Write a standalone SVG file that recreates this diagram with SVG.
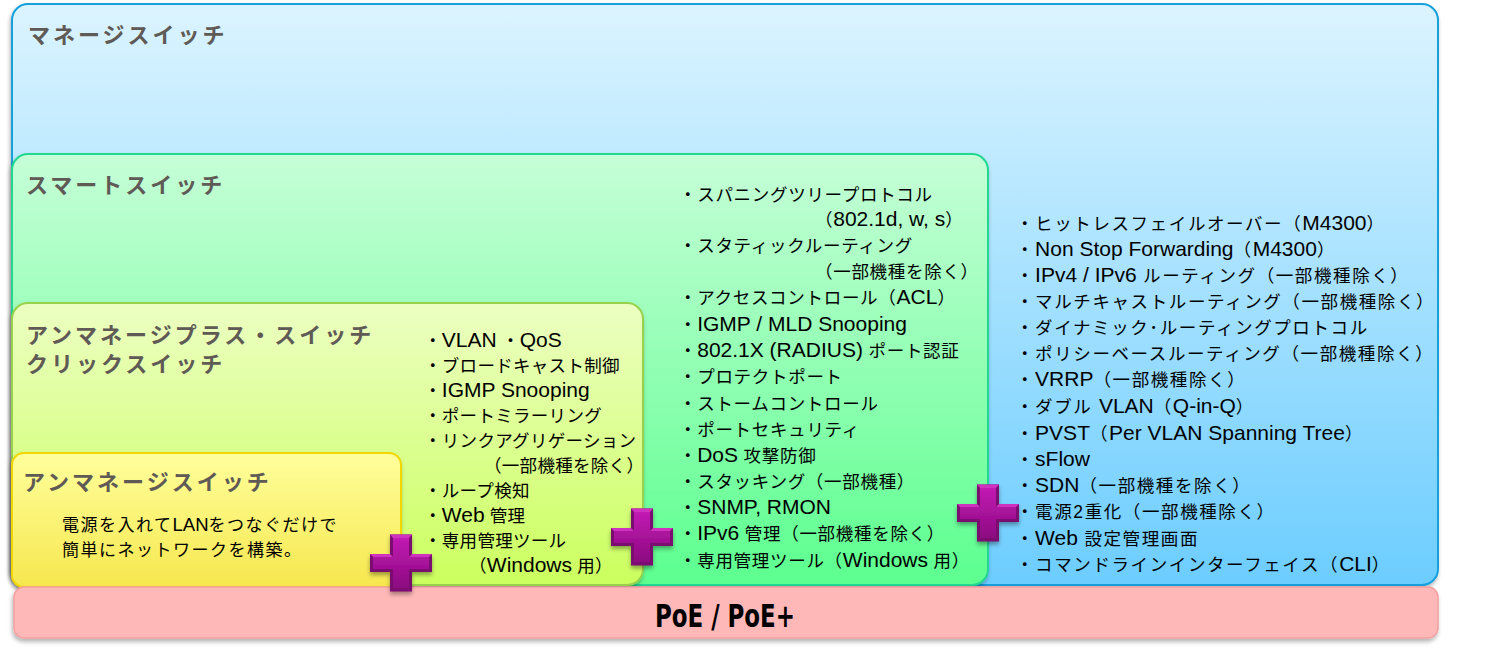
<svg xmlns="http://www.w3.org/2000/svg" width="1486" height="665" viewBox="0 0 1486 665">
<defs>
<linearGradient id="gMan" x1="0" y1="0" x2="0" y2="1"><stop offset="0" stop-color="#dcf4ff"/><stop offset="1" stop-color="#6ccdff"/></linearGradient>
<linearGradient id="gSmart" x1="0" y1="0" x2="0" y2="1"><stop offset="0" stop-color="#c6fed7"/><stop offset="1" stop-color="#5cff8f"/></linearGradient>
<linearGradient id="gPlus" x1="0" y1="0" x2="0" y2="1"><stop offset="0" stop-color="#ecffc2"/><stop offset="1" stop-color="#cbff5e"/></linearGradient>
<linearGradient id="gUn" x1="0" y1="0" x2="0" y2="1"><stop offset="0" stop-color="#ffff9c"/><stop offset="1" stop-color="#f6e74e"/></linearGradient>
<linearGradient id="gCross" x1="0" y1="0" x2="0" y2="1"><stop offset="0" stop-color="#c21ab3"/><stop offset="1" stop-color="#8c0a80"/></linearGradient>
<filter id="sh" x="-5%" y="-10%" width="110%" height="130%"><feDropShadow dx="-1" dy="3" stdDeviation="2" flood-color="#000" flood-opacity="0.3"/></filter>
<filter id="shc" x="-20%" y="-20%" width="140%" height="150%"><feDropShadow dx="0" dy="3" stdDeviation="2" flood-color="#000" flood-opacity="0.35"/></filter>
<g id="cross">
<polygon points="-11,-28.5 11,-28.5 11,-9 31,-9 31,9 11,9 11,28.5 -11,28.5 -11,9 -31,9 -31,-9 -11,-9" fill="#7c0870"/>
<polygon points="-11,-28.5 11,-28.5 8,-25 8,-6 -8,-6 -8,-25" fill="#d030c0"/>
<polygon points="-31,-9 -11,-9 -8,-6 -28,-6" fill="#d030c0"/>
<polygon points="11,-9 31,-9 28,-6 8,-6" fill="#d030c0"/>
<polygon points="-8,-25 8,-25 8,-6 28,-6 28,6 8,6 8,25 -8,25 -8,6 -28,6 -28,-6 -8,-6" fill="url(#gCross)"/>
</g>
</defs>
<style>
.title{font-family:"Liberation Sans","Noto Sans CJK JP",sans-serif;font-size:22px;font-weight:bold;fill:#5f5a55;letter-spacing:3px}
.li{font-family:"Liberation Sans","Noto Sans CJK JP",sans-serif;font-size:17.5px;fill:#000}
.c1{letter-spacing:0.3px}
.c2{letter-spacing:0.7px}
.c3{letter-spacing:1.6px}
.e{font-size:21px;letter-spacing:0}
.body{font-family:"Liberation Sans","Noto Sans CJK JP",sans-serif;font-size:17px;fill:#000;letter-spacing:1.5px}
.be{font-size:18.5px;letter-spacing:0}
.poe{font-family:"DejaVu Sans Condensed","DejaVu Sans",sans-serif;font-size:32px;font-weight:bold;fill:#000}
</style>

<g id="managed">
<rect x="12" y="4" width="1426" height="581" rx="16" fill="url(#gMan)" stroke="#14a0dc" stroke-width="2" filter="url(#sh)"/>
<text class="title" x="28" y="43">マネージスイッチ</text>
<g class="li c3">
<text x="1016" y="230">・ヒットレスフェイルオーバー（<tspan class="e">M4300</tspan>）</text>
<text x="1016" y="256">・<tspan class="e">Non Stop Forwarding</tspan>（<tspan class="e">M4300</tspan>）</text>
<text x="1016" y="282">・<tspan class="e">IPv4 / IPv6</tspan> ルーティング（一部機種除く）</text>
<text x="1016" y="308">・マルチキャストルーティング（一部機種除く）</text>
<text x="1016" y="334">・ダイナミック･ルーティングプロトコル</text>
<text x="1016" y="360">・ポリシーベースルーティング（一部機種除く）</text>
<text x="1016" y="386">・<tspan class="e">VRRP</tspan>（一部機種除く）</text>
<text x="1016" y="413">・ダブル <tspan class="e">VLAN</tspan>（<tspan class="e">Q-in-Q</tspan>）</text>
<text x="1016" y="440">・<tspan class="e">PVST</tspan>（<tspan class="e">Per VLAN Spanning Tree</tspan>）</text>
<text x="1016" y="466">・<tspan class="e">sFlow</tspan></text>
<text x="1016" y="492">・<tspan class="e">SDN</tspan>（一部機種を除く）</text>
<text x="1016" y="518">・電源2重化（一部機種除く）</text>
<text x="1016" y="545">・<tspan class="e">Web</tspan> 設定管理画面</text>
<text x="1016" y="571">・コマンドラインインターフェイス（<tspan class="e">CLI</tspan>）</text>
</g>
</g>

<g id="smart">
<rect x="12" y="154" width="976" height="431" rx="16" fill="url(#gSmart)" stroke="#22d890" stroke-width="2" filter="url(#sh)"/>
<text class="title" x="26" y="193">スマートスイッチ</text>
<g class="li c2">
<text x="679" y="201">・スパニングツリープロトコル</text>
<text x="815" y="226">（<tspan class="e">802.1d, w, s</tspan>）</text>
<text x="679" y="252">・スタティックルーティング</text>
<text x="815" y="278">（一部機種を除く）</text>
<text x="679" y="304">・アクセスコントロール（<tspan class="e">ACL</tspan>）</text>
<text x="679" y="331">・<tspan class="e">IGMP / MLD Snooping</tspan></text>
<text x="679" y="357">・<tspan class="e">802.1X (RADIUS)</tspan> ポート認証</text>
<text x="679" y="383">・プロテクトポート</text>
<text x="679" y="410">・ストームコントロール</text>
<text x="679" y="436">・ポートセキュリティ</text>
<text x="679" y="462">・<tspan class="e">DoS</tspan> 攻撃防御</text>
<text x="679" y="488">・スタッキング（一部機種）</text>
<text x="679" y="514">・<tspan class="e">SNMP, RMON</tspan></text>
<text x="679" y="540">・<tspan class="e">IPv6</tspan> 管理（一部機種を除く）</text>
<text x="679" y="567">・専用管理ツール（<tspan class="e">Windows</tspan> 用）</text>
</g>
</g>

<g id="unmanaged-plus">
<rect x="12" y="303" width="631" height="282" rx="16" fill="url(#gPlus)" stroke="#98d24e" stroke-width="2" filter="url(#sh)"/>
<text class="title" x="26" y="343">アンマネージプラス・スイッチ</text>
<text class="title" x="26" y="372">クリックスイッチ</text>
<g class="li c1">
<text x="424" y="347">・<tspan class="e">VLAN</tspan> ・<tspan class="e">QoS</tspan></text>
<text x="424" y="372">・ブロードキャスト制御</text>
<text x="424" y="397">・<tspan class="e">IGMP Snooping</tspan></text>
<text x="424" y="422">・ポートミラーリング</text>
<text x="424" y="447">・リンクアグリゲーション</text>
<text x="484" y="472">（一部機種を除く）</text>
<text x="424" y="497">・ループ検知</text>
<text x="424" y="522">・<tspan class="e">Web</tspan> 管理</text>
<text x="424" y="547">・専用管理ツール</text>
<text x="469" y="572">（<tspan class="e">Windows</tspan> 用）</text>
</g>
</g>

<g id="unmanaged">
<rect x="12" y="453" width="389" height="134" rx="12" fill="url(#gUn)" stroke="#f2d600" stroke-width="2" filter="url(#sh)"/>
<text class="title" x="23" y="490">アンマネージスイッチ</text>
<text class="body" x="62" y="531">電源を入れて<tspan class="be">LAN</tspan>をつなぐだけで</text>
<text class="body" x="62" y="556">簡単にネットワークを構築。</text>
</g>

<g id="poe">
<rect x="14" y="587" width="1424" height="51" rx="10" fill="#ffb8b8" stroke="#f4a0a0" stroke-width="1.5" filter="url(#sh)"/>
<text class="poe" x="655" y="627" textLength="140" lengthAdjust="spacingAndGlyphs">PoE / PoE+</text>
</g>

<g id="connectors">
<use href="#cross" x="401" y="563" filter="url(#shc)"/>
<use href="#cross" x="642" y="537" filter="url(#shc)"/>
<use href="#cross" x="988" y="513" filter="url(#shc)"/>
</g>
</svg>
